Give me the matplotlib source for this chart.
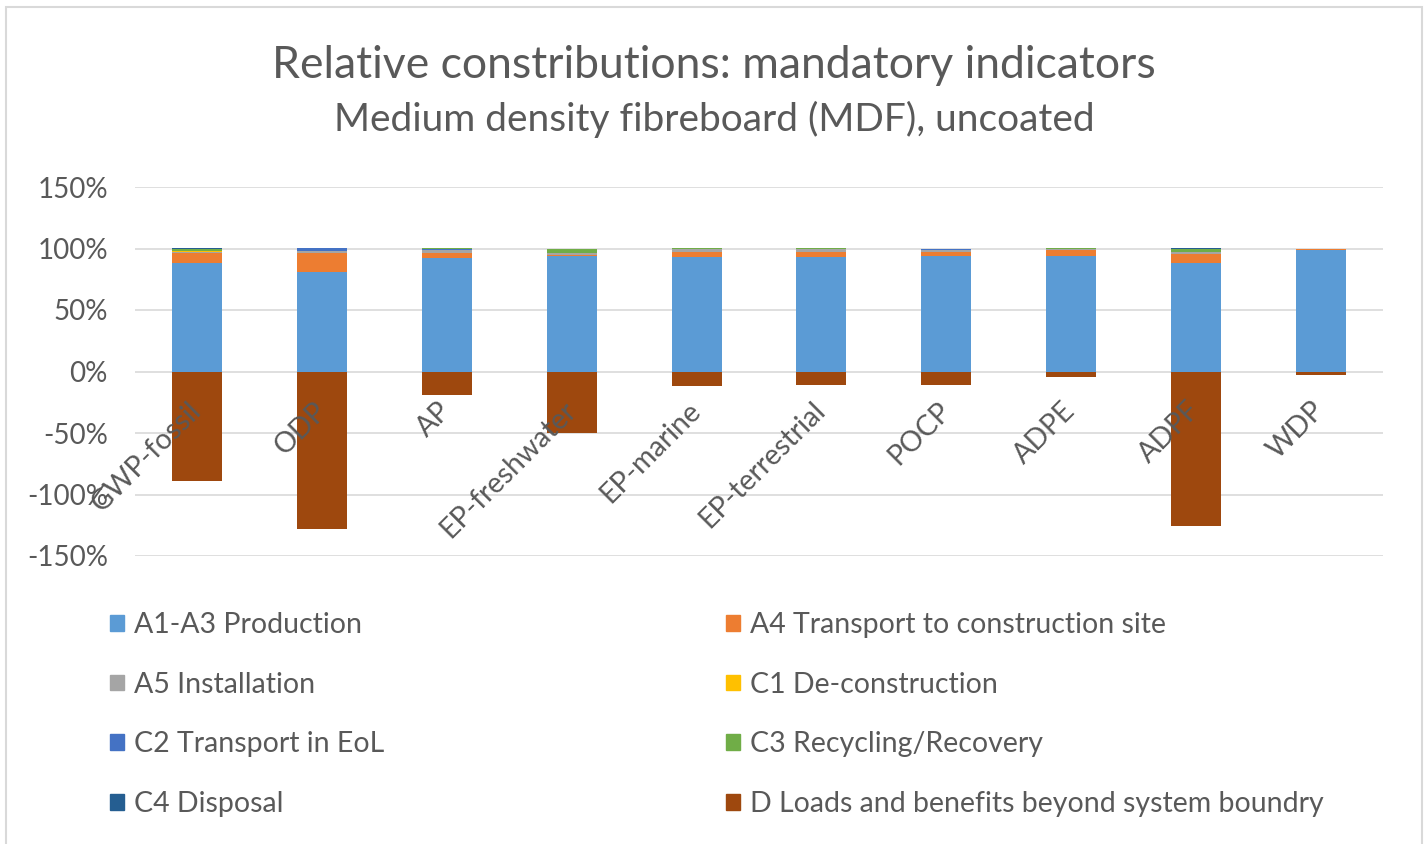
import numpy as np
import matplotlib.pyplot as plt
from matplotlib.patches import Rectangle, Patch
from matplotlib.ticker import FuncFormatter

categories = ['GWP-fossil', 'ODP', 'AP', 'EP-freshwater', 'EP-marine',
              'EP-terrestrial', 'POCP', 'ADPE', 'ADPF', 'WDP']

# contributions in % per module
a1_a3 = [88.5, 81, 92, 94, 93, 93, 94, 93.5, 88.5, 99]
a4 = [8, 15.5, 4.5, 0.5, 4, 4, 3, 5.5, 7, 0.2]
a5 = [1, 1.5, 2.5, 1.5, 2.5, 2.5, 2, 0.5, 1.5, 0.1]
c1 = [0.1, 0.1, 0.1, 0.1, 0.1, 0.1, 0.1, 0.1, 0.1, 0.0]
c2 = [0.4, 2.0, 0.5, 0.2, 0.3, 0.3, 0.3, 0.2, 0.4, 0.0]
c3 = [2, 0.5, 0.5, 3.5, 0.5, 0.5, 0.5, 0.3, 2.5, 0.7]
c4 = [0.1, 0.1, 0.1, 0.1, 0.1, 0.1, 0.1, 0.1, 0.1, 0.0]
d = [-89, -128, -19.5, -50, -12, -10.6, -10.6, -4.5, -126, -2.5]

series = ['A1-A3 Production', 'A4 Transport to construction site', 'A5 Installation',
          'C1 De-construction', 'C2 Transport in EoL', 'C3 Recycling/Recovery',
          'C4 Disposal', 'D Loads and benefits beyond system boundry']
colors = ['#5B9BD5', '#ED7D31', '#A5A5A5', '#FFC000', '#4472C4', '#70AD47',
          '#255E91', '#9E480E']

plt.rcParams['font.family'] = ['Lato', 'DejaVu Sans']
txt = '#595959'

fig = plt.figure(figsize=(14.28, 8.44), dpi=100)
ax = fig.add_axes([135 / 1428, 1 - 556 / 844, 1248 / 1428, 369 / 844])

x = np.arange(len(categories))
w = 0.4
bottom = np.zeros(len(categories))
for vals, col in zip([a1_a3, a4, a5, c1, c2, c3, c4], colors[:7]):
    ax.bar(x, vals, w, bottom=bottom, color=col, zorder=1)
    bottom += np.array(vals)
ax.bar(x, d, w, color=colors[7], zorder=1)

ax.set_xlim(-0.5, len(categories) - 0.5)
ax.set_ylim(-150, 150)
ax.set_yticks(np.arange(-150, 151, 50))
for yv in ax.get_yticks():
    ax.axhline(yv, color='#D9D9D9', linewidth=1.2, zorder=0)
ax.yaxis.set_major_formatter(FuncFormatter(lambda v, p: f'{v:.0f}%'))
ax.set_axisbelow(False)
for s in ax.spines.values():
    s.set_visible(False)
ax.spines['bottom'].set_position(('data', 0))
ax.tick_params(axis='y', length=0, pad=19.5, labelsize=20, labelcolor=txt)
ax.tick_params(axis='x', length=0, pad=25, labelsize=20.5, labelcolor=txt)
ax.set_xticks(x)
ax.set_xticklabels(categories, rotation=45, ha='right', va='center',
                   rotation_mode='anchor')

fig.text(0.5, 1 - 65 / 844, 'Relative constributions: mandatory indicators',
         ha='center', va='center', fontsize=32, color=txt)
fig.text(0.5, 1 - 119 / 844, 'Medium density fibreboard (MDF), uncoated',
         ha='center', va='center', fontsize=28, color=txt)

handles = [Patch(color=c) for c in colors]
left_idx = [0, 2, 4, 6]
right_idx = [1, 3, 5, 7]
for idx, xpos in [(left_idx, 110), (right_idx, 726)]:
    fig.legend([handles[i] for i in idx], [series[i] for i in idx],
               loc='upper left', bbox_to_anchor=(xpos / 1428, 1 - 612 / 844),
               frameon=False, fontsize=20.5, labelcolor=txt, borderpad=0,
               borderaxespad=0, handlelength=0.48, handleheight=0.48,
               handletextpad=0.35, labelspacing=1.18)

fig.patches.append(Rectangle((6 / 1428, -0.05), 1416 / 1428, 1.05 - 7 / 844,
                             transform=fig.transFigure, fill=False,
                             edgecolor='#D9D9D9', linewidth=1.5))

fig.savefig('out.png', dpi=100)
